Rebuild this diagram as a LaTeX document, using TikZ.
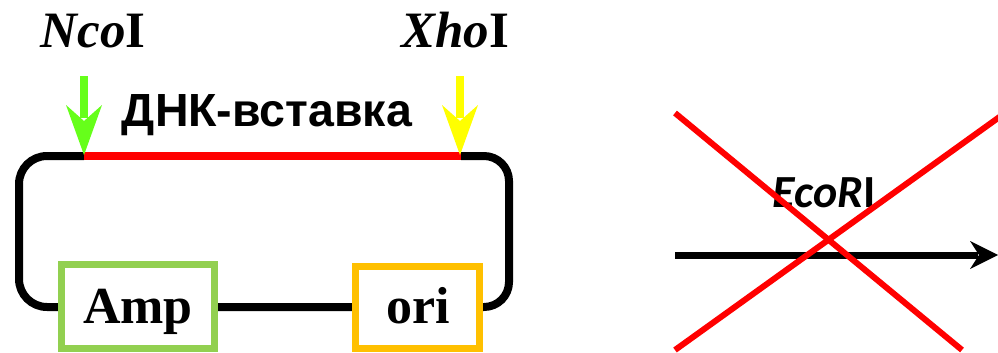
\documentclass[tikz,border=0pt]{standalone}
\usepackage{fontspec}
\setmainfont{Liberation Serif}
\newfontfamily\labelsans{Liberation Sans}
\newfontfamily\labelcal{Carlito}
\definecolor{cutgreen}{RGB}{102,255,26}
\definecolor{cutyellow}{RGB}{255,255,0}
\definecolor{ampgreen}{RGB}{146,208,80}
\definecolor{origold}{RGB}{255,192,0}
\definecolor{insred}{RGB}{255,0,0}
\begin{document}
\begin{tikzpicture}[x=1pt,y=-1pt,
  dna/.style={line width=8pt},
  genebox/.style={draw,line width=7pt,fill=white,inner sep=0pt},
  site/.style={inner sep=0pt,anchor=base},
  cutarrow/.style={fill=#1,draw=none},
  cross/.style={insred,line width=6pt}]
\useasboundingbox (0,0) rectangle (998,353);

% plasmid backbone
\draw[dna,rounded corners=28pt] (84,156) -- (19,156) -- (19,307) -- (200,307);
\draw[dna,rounded corners=25pt] (200,307) -- (509,307) -- (509,156) -- (461,156);
% inserted fragment
\draw[dna,insred] (84,156) -- (461,156);

% selection marker and origin
\node[genebox,draw=ampgreen,minimum width=153pt,minimum height=84pt] (amp) at (138,306.5) {};
\node[genebox,draw=origold,minimum width=124pt,minimum height=82pt] (ori) at (417.5,307.5) {};
\node[site] at (138,323) {\fontsize{52}{60}\selectfont\bfseries Amp};
\node[site] at (418,323) {\fontsize{52}{60}\selectfont\bfseries ori};

% restriction sites
\node[site] (nco) at (93,48) {\fontsize{51}{60}\selectfont\bfseries\itshape Nco\upshape I};
\node[site] (xho) at (455,48) {\fontsize{51}{60}\selectfont\bfseries\itshape Xho\upshape I};
\node[site] (ins) at (267,126) {\fontsize{46.5}{54}\selectfont\labelsans\bfseries ДНК-вставка};

% cut-site arrows
\coordinate (ncotip) at (84,155);
\coordinate (xhotip) at (460,155);
\fill[cutarrow=cutgreen] (80,76) rectangle (88,118);
\fill[cutarrow=cutgreen] (ncotip) -- (66,105) -- (84,121) -- (102,105) -- cycle;
\fill[cutarrow=cutyellow] (456,76) rectangle (464,118);
\fill[cutarrow=cutyellow] (xhotip) -- (442,105) -- (460,121) -- (478,105) -- cycle;

% crossed-out EcoRI
\node[site] (eco) at (824,207.5) {\fontsize{46}{54}\selectfont\labelcal\bfseries\itshape EcoR\upshape I};
\coordinate (lin0) at (675,255);
\coordinate (lin1) at (978,255);
\draw[line width=7pt] (lin0) -- (lin1);
\fill (998,255) -- (970,241) -- (979,255) -- (970,269) -- cycle;
\draw[cross] (675,113) -- (962,350);
\draw[cross] (675,350) -- (1005,113);
\end{tikzpicture}
\end{document}
